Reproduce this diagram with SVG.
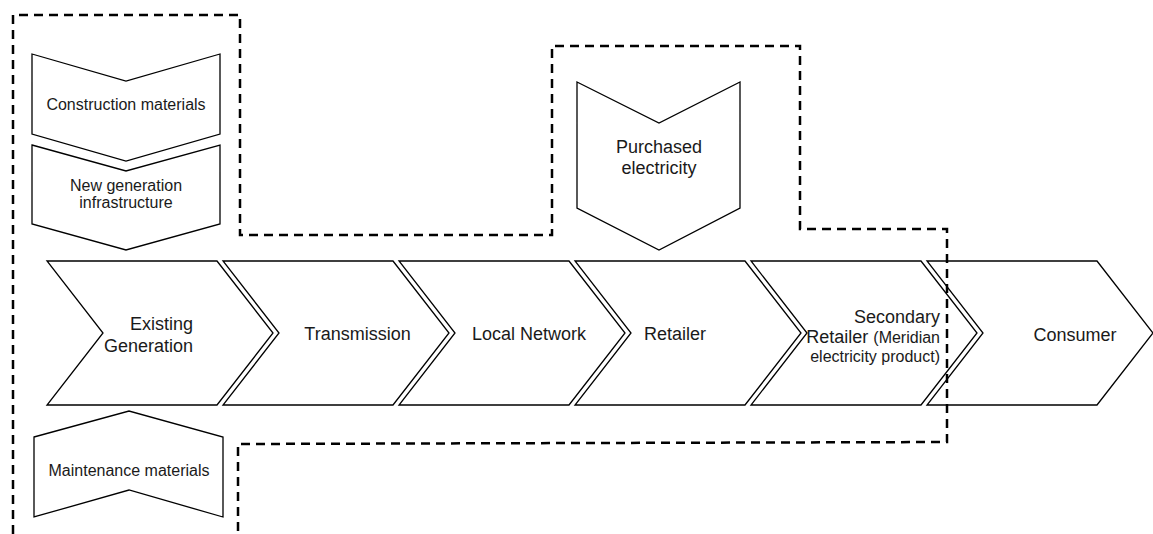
<svg xmlns="http://www.w3.org/2000/svg" width="1153" height="534" viewBox="0 0 1153 534">
<style>
.shape{fill:#fff;stroke:#000;stroke-width:1.3;stroke-linejoin:miter}
.t{font-family:"Liberation Sans",Arial,sans-serif;fill:#1a1a1a}
.l{font-size:18px}
.s{font-size:16px}
.bound{fill:none;stroke:#000;stroke-width:2.5;stroke-dasharray:9,6}
</style>
<rect width="1153" height="534" fill="#fff"/>
<g id="existing-generation">
<polygon class="shape" points="47,261 217,261 273,333 217,405 47,405 103,333"/>
<text class="t l" text-anchor="end" x="193" y="330">Existing</text>
<text class="t l" text-anchor="end" x="193" y="352">Generation</text>
</g>
<g id="transmission">
<polygon class="shape" points="223,261 393,261 449,333 393,405 223,405 279,333"/>
<text class="t l" text-anchor="middle" x="357.5" y="340">Transmission</text>
</g>
<g id="local-network">
<polygon class="shape" points="399,261 569,261 625,333 569,405 399,405 455,333"/>
<text class="t l" text-anchor="middle" x="529" y="340">Local Network</text>
</g>
<g id="retailer">
<polygon class="shape" points="575,261 745,261 801,333 745,405 575,405 631,333"/>
<text class="t l" text-anchor="middle" x="675" y="340">Retailer</text>
</g>
<g id="secondary-retailer">
<polygon class="shape" points="751,261 921,261 977,333 921,405 751,405 807,333"/>
<text class="t l" text-anchor="end" x="940" y="323">Secondary</text>
<text class="t" text-anchor="end" x="940" y="343"><tspan class="l">Retailer </tspan><tspan class="s">(Meridian</tspan></text>
<text class="t s" text-anchor="end" x="940" y="362">electricity product)</text>
</g>
<g id="consumer">
<polygon class="shape" points="927,261 1097,261 1153,333 1097,405 927,405 983,333"/>
<text class="t l" text-anchor="middle" x="1075" y="341">Consumer</text>
</g>
<g id="construction-materials">
<polygon class="shape" points="32,54 126,81 220,54 220,134 126,161 32,134"/>
<text class="t s" text-anchor="middle" x="126" y="110">Construction materials</text>
</g>
<g id="new-generation-infrastructure">
<polygon class="shape" points="32,145 126,171 220,145 220,224 126,250 32,224"/>
<text class="t s" text-anchor="middle" x="126" y="191">New generation</text>
<text class="t s" text-anchor="middle" x="126" y="208">infrastructure</text>
</g>
<g id="purchased-electricity">
<polygon class="shape" points="577,82 659,123 740,82 740,208 659,250 577,208"/>
<text class="t l" text-anchor="middle" x="659" y="153">Purchased</text>
<text class="t l" text-anchor="middle" x="659" y="174">electricity</text>
</g>
<g id="maintenance-materials">
<polygon class="shape" points="34,437 129,411 223,437 223,517 129,490 34,517"/>
<text class="t s" text-anchor="middle" x="129" y="476">Maintenance materials</text>
</g>
<g id="connectors">
<path class="bound" d="M13,534 L13,15 L240,15 L240,235 L552,235 L552,46 L800,46 L800,229 L947,229 L947,442 L238,444 L238,534"/>
</g>
</svg>
